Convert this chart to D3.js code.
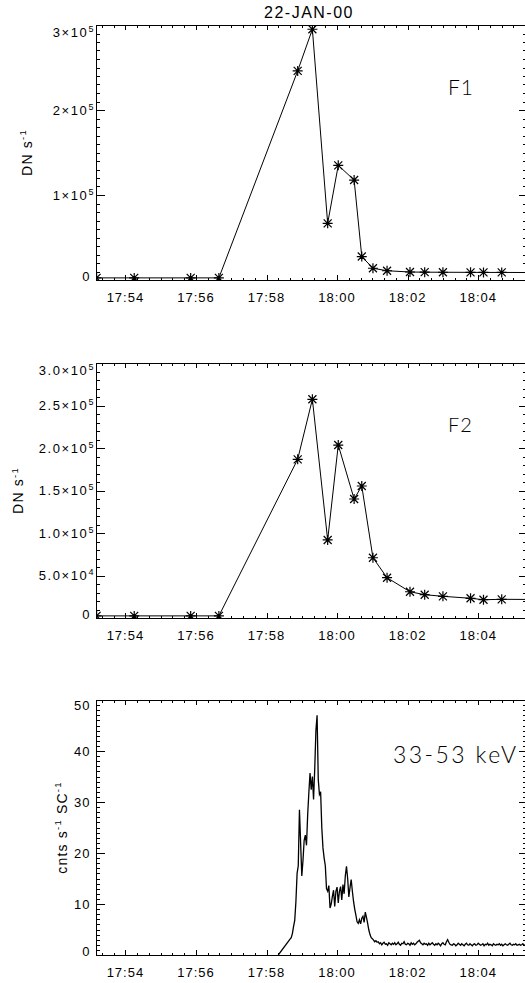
<!DOCTYPE html>
<html>
<head>
<meta charset="utf-8">
<script src="https://cdn.jsdelivr.net/npm/d3@7"></script>
<style>
  html, body { margin: 0; padding: 0; background: #fff; }
  svg { display: block; font-family: "Liberation Sans", Arial, sans-serif; }
  .thin { font-family: Lato, "Liberation Sans", sans-serif; font-weight: 300; }
</style>
</head>
<body>
<svg id="chart" width="525" height="983"></svg>
<script>
// ---- data ----
const title = "22-JAN-00";

// soft X-ray footpoint fluxes (DN s^-1) at the image times
const sxrTimes = ["17:53:11", "17:54:15", "17:55:51", "17:56:39", "17:58:53", "17:59:18",
                  "17:59:44", "18:00:02", "18:00:29", "18:00:42", "18:01:01", "18:01:25",
                  "18:02:04", "18:02:29", "18:03:00", "18:03:47", "18:04:09", "18:04:40", "18:05:33"];
const f1Values = [2500, 2500, 2500, 2500, 246000, 295000,
                  66700, 134900, 117600, 27600, 13800, 10900,
                  9400, 9200, 9100, 9000, 8900, 8900, 8800];
const f2Values = [2500, 2500, 2500, 2500, 186700, 257300,
                  91800, 203500, 140000, 155300, 70900, 47400,
                  30900, 27400, 25500, 23200, 21500, 22000, 21800];

// hard X-ray counts, 33-53 keV (cnts s^-1 SC^-1)
const hxrLeadTime = "17:58:20";
const hxrLeadValue = 0;
const hxrStart = "17:58:40";
const hxrCadence = 2; // seconds
const hxrCounts = [
  3.1, 3.4, 4.2, 5.6, 6.8, 10.5, 16.0, 17.5, 28.5, 22.0,
  15.5, 18.5, 22.5, 23.5, 21.5, 27.5, 31.8, 35.7, 32.4, 35.0,
  30.5, 36.5, 44.0, 47.0, 34.4, 31.5, 32.0, 25.0, 21.0, 19.0,
  17.5, 13.0, 12.5, 13.6, 9.2, 10.0, 11.5, 12.7, 9.5, 12.5,
  13.3, 10.2, 12.5, 13.4, 10.8, 13.8, 12.0, 15.5, 17.4, 15.0,
  11.4, 13.2, 14.8, 12.5, 10.5, 9.0, 7.8, 6.5, 6.2, 6.9,
  6.1, 7.2, 7.6, 6.4, 8.4, 7.4, 6.2, 4.9, 4.0, 3.4,
  3.2, 2.9, 2.6, 2.8, 2.5,
  2.6, 2.2, 2.4, 2.0, 2.3, 2.5, 2.1, 2.2, 1.9, 2.4, 2.2, 2.0, 2.3, 2.1, 2.4, 2.0, 2.2, 2.5, 2.1, 1.9,
  2.3, 2.2, 2.6, 2.1, 2.0, 2.3, 2.2, 1.9, 2.4, 2.1, 2.3, 2.0, 2.2, 2.5, 2.7, 2.9, 2.4, 2.2, 2.0, 2.3,
  2.1, 2.2, 1.9, 2.3, 2.0, 2.2, 2.4, 2.1, 1.9, 2.2, 2.0, 2.3, 2.1, 1.8, 2.2, 2.4, 2.1, 2.0, 2.6, 3.0,
  2.5, 2.1, 2.0, 1.9, 2.2, 2.1, 1.8, 2.0, 2.3, 2.1, 1.9, 2.2, 2.0, 1.8, 2.1, 2.3, 2.0, 1.9, 2.2, 2.0,
  1.8, 2.1, 2.2, 1.9, 2.0, 2.3, 2.1, 1.9, 2.0, 2.2, 1.8, 2.1, 2.0, 2.3, 1.9, 2.1, 2.0, 1.8, 2.2, 2.0,
  1.9, 2.1, 2.0, 2.2, 1.9, 2.1, 1.8, 2.0, 2.2, 2.0, 1.9, 2.1, 2.3, 2.0, 1.9, 2.1, 2.0, 2.2, 1.9, 2.0,
  2.1, 1.9, 2.0, 2.2, 1.9, 2.0, 2.1, 2.0
];

// axis ticks and labels
const timeRange = ["17:53:10", "18:05:23"];
const xTickLabels = ["17:54", "17:56", "17:58", "18:00", "18:02", "18:04"];
const f1YTicks = [0, 100000, 200000, 300000];
const f1YLabels = ["0", "1×10^5", "2×10^5", "3×10^5"];
const f2YTicks = [0, 50000, 100000, 150000, 200000, 250000, 300000];
const f2YLabels = ["0", "5.0×10^4", "1.0×10^5", "1.5×10^5", "2.0×10^5", "2.5×10^5", "3.0×10^5"];
const hxrYTicks = [0, 10, 20, 30, 40, 50];
const hxrYLabels = ["0", "10", "20", "30", "40", "50"];

// ---- layout ----
const svg = d3.select("#chart");
const plotLeft = 96, plotRight = 527, plotH = 255;
const parseT = d3.timeParse("%H:%M:%S");

const x = d3.scaleTime()
  .domain(timeRange.map(parseT))
  .range([plotLeft, plotRight]);
const majorTimes = xTickLabels.map(s => parseT(s + ":00"));
const minorTimes = x.ticks(d3.timeSecond.every(20));

const sxrDates = sxrTimes.map(parseT);
const f1Data = sxrDates.map((t, i) => ({ t, v: f1Values[i] }));
const f2Data = sxrDates.map((t, i) => ({ t, v: f2Values[i] }));
const hxrT0 = parseT(hxrStart);
const hxrData = [{ t: parseT(hxrLeadTime), v: hxrLeadValue }].concat(
  hxrCounts.map((v, i) => ({ t: d3.timeSecond.offset(hxrT0, i * hxrCadence), v })));

const panels = [
  { id: 1, top: 25, yMax: 300000, minor: 10000, ticks: f1YTicks, labels: f1YLabels,
    data: f1Data, stars: true, ylabel: [["DN s", ""], ["-1", "sup"]], ylabelX: 31.5,
    tag: "F1", tagX: 448, tagY: 95, tagSize: 21, tagSpacing: 1 },
  { id: 2, top: 363, yMax: 300000, minor: 10000, ticks: f2YTicks, labels: f2YLabels,
    data: f2Data, stars: true, ylabel: [["DN s", ""], ["-1", "sup"]], ylabelX: 23,
    tag: "F2", tagX: 448, tagY: 432, tagSize: 20, tagSpacing: 1 },
  { id: 3, top: 700, yMax: 50, minor: 1, ticks: hxrYTicks, labels: hxrYLabels,
    data: hxrData, stars: false, ylabel: [["cnts s", ""], ["-1", "sup"], [" SC", ""], ["-1", "sup"]], ylabelX: 66.5,
    tag: "33-53 keV", tagX: 393, tagY: 763, tagSize: 23, tagSpacing: 2.4 }
];

// title
svg.append("text")
  .attr("x", (plotLeft + 522) / 2)
  .attr("y", 18)
  .attr("text-anchor", "middle")
  .attr("font-size", 16)
  .attr("letter-spacing", 1.5)
  .text(title);

const capH = 9.3, supH = 5;

function addLabel(sel, str) {
  const parts = str.split("^");
  sel.append("tspan").text(parts[0]);
  if (parts.length > 1) {
    sel.append("tspan").attr("font-size", 9).attr("dy", -5).text(parts[1]);
  }
}

panels.forEach(p => {
  const bottom = p.top + plotH;
  const y = d3.scaleLinear().domain([0, p.yMax]).range([bottom, p.top]);
  const g = svg.append("g");

  const clipId = "clip" + p.id;
  svg.append("clipPath").attr("id", clipId)
    .append("rect")
    .attr("x", plotLeft).attr("y", p.top)
    .attr("width", plotRight - plotLeft).attr("height", plotH);

  const axes = g.append("g")
    .attr("stroke", "#000")
    .attr("stroke-width", 1)
    .attr("shape-rendering", "crispEdges");

  // frame
  axes.append("rect")
    .attr("x", plotLeft + 0.5).attr("y", p.top + 0.5)
    .attr("width", plotRight - plotLeft).attr("height", plotH)
    .attr("fill", "none");

  // x ticks on bottom and top edges
  const xTick = (t, len) => {
    const xx = Math.round(x(t)) + 0.5;
    axes.append("line").attr("x1", xx).attr("x2", xx).attr("y1", bottom).attr("y2", bottom - len);
    axes.append("line").attr("x1", xx).attr("x2", xx).attr("y1", p.top).attr("y2", p.top + len);
  };
  minorTimes.forEach(t => xTick(t, 2.5));
  majorTimes.forEach(t => xTick(t, 5));

  // y ticks on left and right edges
  const yTick = (v, len) => {
    const yy = Math.round(y(v)) + 0.5;
    axes.append("line").attr("x1", plotLeft).attr("x2", plotLeft + len).attr("y1", yy).attr("y2", yy);
    axes.append("line").attr("x1", plotRight).attr("x2", plotRight - len).attr("y1", yy).attr("y2", yy);
  };
  d3.range(0, p.yMax + p.minor / 2, p.minor).forEach(v => yTick(v, 4.25));
  p.ticks.forEach(v => yTick(v, 8.5));

  // x tick labels
  majorTimes.forEach((t, i) => {
    g.append("text")
      .attr("x", x(t))
      .attr("y", bottom + 21.5)
      .attr("text-anchor", "middle")
      .attr("font-size", 13)
      .attr("letter-spacing", 1)
      .text(xTickLabels[i]);
  });

  // y tick labels, kept inside the vertical extent of the box
  p.ticks.forEach((v, i) => {
    const lab = p.labels[i];
    const hasSup = lab.includes("^");
    let base = y(v) + capH / 2;
    const limit = p.top - (hasSup ? 2 : -0.5);
    if (base - capH - (hasSup ? supH : 0) < limit) base = limit + capH + (hasSup ? supH : 0);
    if (base > bottom + 1) base = bottom + 1;
    const t = g.append("text")
      .attr("x", hasSup ? 95 : 90.5)
      .attr("y", base)
      .attr("text-anchor", "end")
      .attr("font-size", 13)
      .attr("letter-spacing", hasSup ? 1.6 : 1);
    addLabel(t, lab);
  });

  // y axis title
  const yt = g.append("text")
    .attr("transform", `translate(${p.ylabelX},${p.top + plotH / 2}) rotate(-90)`)
    .attr("text-anchor", "middle")
    .attr("font-size", 14)
    .attr("letter-spacing", 1.2);
  let raised = false;
  p.ylabel.forEach(([s, kind]) => {
    const ts = yt.append("tspan").text(s);
    if (kind === "sup" && !raised) { ts.attr("font-size", 9.5).attr("dy", -5.5); raised = true; }
    else if (kind !== "sup" && raised) { ts.attr("dy", 5.5); raised = false; }
    else if (kind === "sup") ts.attr("font-size", 9.5);
  });

  // panel tag
  g.append("text")
    .attr("class", "thin")
    .attr("x", p.tagX)
    .attr("y", p.tagY)
    .attr("font-size", p.tagSize)
    .attr("letter-spacing", p.tagSpacing)
    .text(p.tag);

  // data
  const plotG = g.append("g").attr("clip-path", `url(#${clipId})`);
  const line = d3.line().x(d => x(d.t)).y(d => y(d.v));
  plotG.append("path")
    .datum(p.data)
    .attr("d", line)
    .attr("fill", "none")
    .attr("stroke", "#000")
    .attr("stroke-width", p.stars ? 1 : 1.3)
    .attr("stroke-linejoin", "miter");

  if (p.stars) {
    const r = 5, dd = 4;
    const star = `M0,${-r}L0,${r}M${-r},0L${r},0M${-dd},${-dd}L${dd},${dd}M${-dd},${dd}L${dd},${-dd}`;
    plotG.selectAll("path.star")
      .data(p.data)
      .enter().append("path")
      .attr("class", "star")
      .attr("transform", d => `translate(${x(d.t)},${y(d.v)})`)
      .attr("d", star)
      .attr("fill", "none")
      .attr("stroke", "#000")
      .attr("stroke-width", 1.2);
  }
});
</script>
</body>
</html>
